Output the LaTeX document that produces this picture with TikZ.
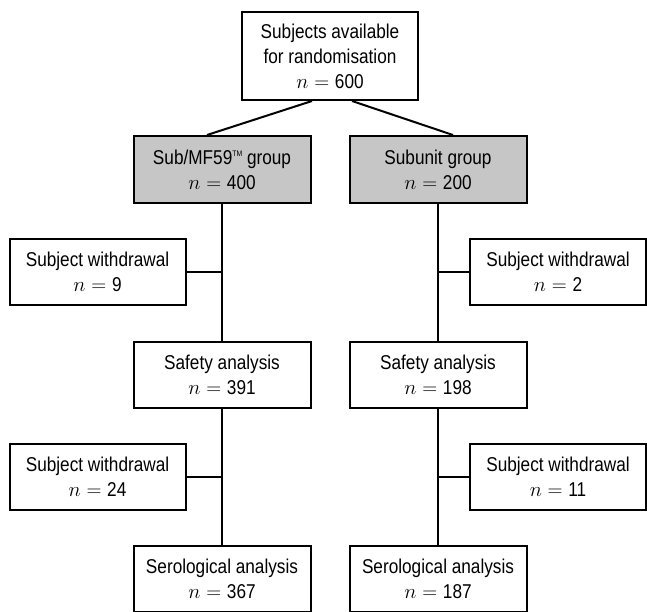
\documentclass[tikz,border=0pt]{standalone}
\usepackage{amsmath}
\usepackage{fontspec}
\setmainfont{Liberation Sans}[FakeStretch=0.86]
\newcommand{\tmark}{\raisebox{0.75ex}{\fontsize{8}{8}\selectfont TM}}
\tikzset{
    box/.style={draw, line width=2pt, minimum width=177pt, minimum height=66pt,
        inner sep=0pt, align=center, font=\fontsize{20}{25}\selectfont},
    grp/.style={box, fill=gray!45},
    link/.style={line width=2pt}
}

\begin{document}
\begin{tikzpicture}[x=1pt,y=-1pt]
    \useasboundingbox (0,0) rectangle (647,611);
%    \draw[step=50,gray!50,very thin] (0,0) grid (647,611);
    \node[box, minimum width=176pt, minimum height=88pt] (top) at (330,56) {Subjects available\\for randomisation\\$n = {}$600};
    \node[grp, minimum height=67pt] (sub) at (222,169.5) {Sub/MF59\tmark\ group\\$n = {}$400};
    \node[grp, minimum height=67pt] (subu) at (438,169.5) {Subunit group\\$n = {}$200};
    \node[box, minimum width=176pt] (wdl1) at (97.5,272) {Subject withdrawal\\$n = {}$9};
    \node[box, minimum width=176pt] (wdr1) at (558,272) {Subject withdrawal\\$n = {}$2};
    \node[box] (safl) at (222,375) {Safety analysis\\$n = {}$391};
    \node[box] (safr) at (438,375) {Safety analysis\\$n = {}$198};
    \node[box, minimum width=176pt] (wdl2) at (97.5,477) {Subject withdrawal\\$n = {}$24};
    \node[box, minimum width=176pt] (wdr2) at (558,477) {Subject withdrawal\\$n = {}$11};
    \node[box] (serl) at (222,579) {Serological analysis\\$n = {}$367};
    \node[box] (serr) at (438,579) {Serological analysis\\$n = {}$187};
    \draw [link] ([xshift=-18pt]top.south) -- ([xshift=-15pt]sub.north);
    \draw [link] ([xshift=22pt]top.south) -- ([xshift=15pt]subu.north);
    \foreach \a/\b in {sub/safl,safl/serl,subu/safr,safr/serr}
        \draw [link] (\a.south) -- (\b.north);
    \foreach \w/\c in {wdl1/sub,wdl2/safl}
        \draw [link] (\w.east) -- (\w.east -| \c);
    \foreach \w/\c in {wdr1/subu,wdr2/safr}
        \draw [link] (\w.west) -- (\w.west -| \c);
\end{tikzpicture}
\end{document}
